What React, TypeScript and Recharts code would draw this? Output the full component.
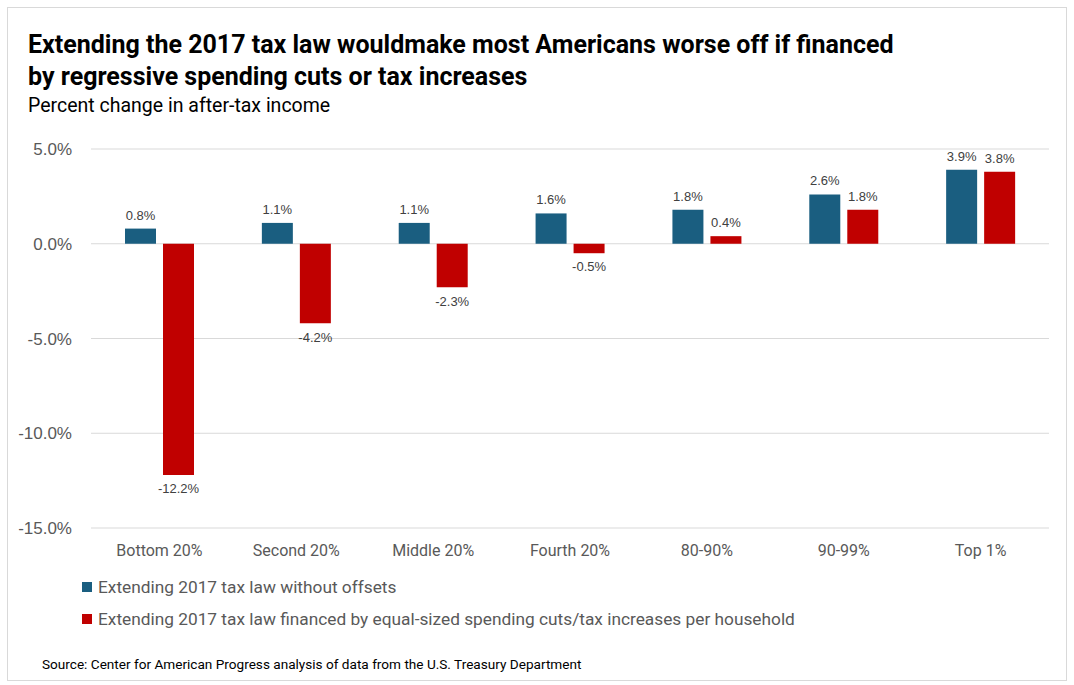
import { BarChart, Bar, XAxis, YAxis, CartesianGrid, LabelList } from 'recharts';

const categories = ['Bottom 20%', 'Second 20%', 'Middle 20%', 'Fourth 20%', '80-90%', '90-99%', 'Top 1%'];
const withoutOffsets = [0.8, 1.1, 1.1, 1.6, 1.8, 2.6, 3.9];
const financedByCuts = [-12.2, -4.2, -2.3, -0.5, 0.4, 1.8, 3.8];
const yTicks = [-15, -10, -5, 0, 5];

const BLUE = '#1a5e80';
const RED = '#c00000';
const numFont = '"Liberation Sans", Arial, sans-serif';
const textFont = '"Liberation Sans Narrow", Roboto, "Noto Sans", sans-serif';

const seriesNames = [
  'Extending 2017 tax law without offsets',
  'Extending 2017 tax law financed by equal-sized spending cuts/tax increases per household',
];

export default function App() {
  const data = categories.map((name, i) => ({
    name,
    base: withoutOffsets[i],
    financed: financedByCuts[i],
  }));

  const pct = (v: number) => `${v.toFixed(1)}%`;

  return (
    <div style={{ position: 'absolute', left: 0, top: 0, width: 1074, height: 685, background: '#fff' }}>
      {/* chart frame */}
      <div
        style={{
          position: 'absolute',
          left: 7,
          top: 7,
          width: 1058,
          height: 672,
          border: '1px solid #d9d9d9',
        }}
      />
      <div
        style={{
          position: 'absolute',
          left: 28,
          top: 29,
          fontFamily: textFont,
          fontWeight: 700,
          fontSize: 25,
          lineHeight: '32px',
          color: '#000',
        }}
      >
        Extending the 2017 tax law wouldmake most Americans worse off if financed
        <br />
        by regressive spending cuts or tax increases
      </div>
      <div
        style={{
          position: 'absolute',
          left: 28,
          top: 94,
          fontFamily: textFont,
          fontSize: 19.5,
          color: '#000',
        }}
      >
        Percent change in after-tax income
      </div>

      <div style={{ position: 'absolute', left: 0, top: 0 }}>
        <BarChart
          width={1074}
          height={600}
          data={data}
          margin={{ top: 149, right: 25, bottom: 42, left: 0 }}
          barSize={31}
          barGap={7}
        >
          <CartesianGrid vertical={false} stroke="#d9d9d9" strokeWidth={1} />
          <XAxis
            dataKey="name"
            axisLine={false}
            tickLine={false}
            tickSize={0}
            tickMargin={17}
            interval={0}
            tick={{ fill: '#595959', fontSize: 16, fontFamily: textFont }}
          />
          <YAxis
            width={91}
            domain={[-15, 5]}
            ticks={yTicks}
            tickFormatter={pct}
            axisLine={false}
            tickLine={false}
            tickSize={0}
            tickMargin={19}
            tick={{ fill: '#595959', fontSize: 17, fontFamily: numFont }}
          />
          <Bar dataKey="base" fill={BLUE} isAnimationActive={false}>
            <LabelList
              dataKey="base"
              position="top"
              offset={9}
              formatter={(v: number) => pct(v)}
              style={{ fill: '#404040', fontSize: 13, fontFamily: numFont }}
            />
          </Bar>
          <Bar dataKey="financed" fill={RED} isAnimationActive={false}>
            <LabelList
              dataKey="financed"
              position="top"
              offset={9}
              formatter={(v: number) => pct(v)}
              style={{ fill: '#404040', fontSize: 13, fontFamily: numFont }}
            />
          </Bar>
        </BarChart>
      </div>

      {/* legend */}
      <div style={{ position: 'absolute', left: 82, top: 575, fontFamily: textFont, fontSize: 17.3, color: '#595959' }}>
        {seriesNames.map((s, i) => (
          <div key={s} style={{ display: 'flex', alignItems: 'center', height: 24, marginBottom: 8 }}>
            <span
              style={{
                display: 'inline-block',
                width: 10,
                height: 10,
                background: i === 0 ? BLUE : RED,
                marginRight: 6,
              }}
            />
            {s}
          </div>
        ))}
      </div>

      <div
        style={{
          position: 'absolute',
          left: 42,
          top: 656,
          fontFamily: textFont,
          fontSize: 13.6,
          color: '#000',
        }}
      >
        Source: Center for American Progress analysis of data from the U.S. Treasury Department
      </div>
    </div>
  );
}
